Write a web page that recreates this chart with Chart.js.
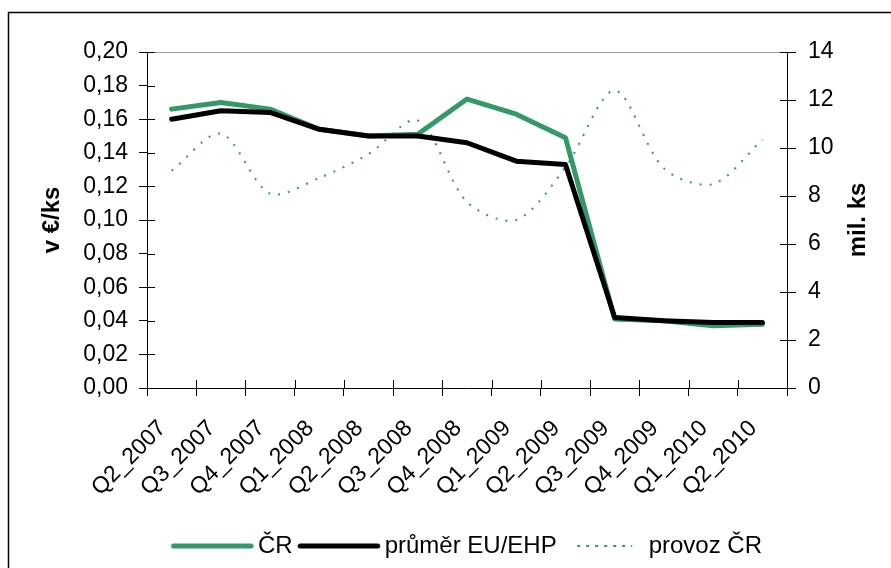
<!DOCTYPE html>
<html>
<head>
<meta charset="utf-8">
<script src="https://cdn.jsdelivr.net/npm/chart.js@4.4.1/dist/chart.umd.min.js"></script>
<style>
  html, body { margin: 0; padding: 0; background: #fff; }
  #wrap { width: 891px; height: 568px; }
</style>
</head>
<body>
<div id="wrap"><canvas id="graf" width="891" height="568"></canvas></div>
<script>
// Kvartaly na ose x
const kvartaly = ['Q2_2007', 'Q3_2007', 'Q4_2007', 'Q1_2008', 'Q2_2008', 'Q3_2008', 'Q4_2008',
                  'Q1_2009', 'Q2_2009', 'Q3_2009', 'Q4_2009', 'Q1_2010', 'Q2_2010'];

// Cena v €/ks (leva osa)
const cenaCR = [0.166, 0.170, 0.166, 0.154, 0.150, 0.151, 0.172, 0.163, 0.149, 0.041, 0.040, 0.037, 0.038];
const cenaEU = [0.160, 0.165, 0.164, 0.154, 0.150, 0.150, 0.146, 0.135, 0.133, 0.042, 0.040, 0.039, 0.039];

// Provoz v mil. ks (prava osa)
const provozCR = [9.05, 10.6, 8.1, 8.75, 9.75, 11.15, 7.75, 7.0, 9.2, 12.4, 9.15, 8.5, 10.35];

// Rozsah os: min, max, krok
const levaOsa = [0, 0.20, 0.02];
const pravaOsa = [0, 14, 2];

const zelena = '#339966';
const rodina = "'Liberation Sans', Arial, sans-serif";
const pismo = { family: rodina, size: 23 };

Chart.defaults.font.family = rodina;
Chart.defaults.color = '#000';

// vzorek cary do legendy (Chart.js u pointStyle nekresli carkovani)
function vzorek(barva, sirka, carky, od, po, kulate) {
    const c = document.createElement('canvas');
    c.width = 104;
    c.height = 8;
    const g = c.getContext('2d');
    g.strokeStyle = barva;
    g.lineWidth = sirka;
    g.lineCap = kulate ? 'round' : 'butt';
    g.setLineDash(carky);
    g.beginPath();
    g.moveTo(od, 4);
    g.lineTo(po, 4);
    g.stroke();
    return c;
}

// ramecek, horni seda cara, vnitrni carky a popisek prave osy
const doplnky = {
    id: 'doplnky',
    afterLayout(chart) {
        // legenda je v originale posunuta doprava
        chart.legend.left += 22;
        chart.legend.right += 22;
    },
    beforeDraw(chart) {
        const c = chart.ctx;
        c.save();
        c.fillStyle = '#fff';
        c.fillRect(0, 0, chart.width, chart.height);
        c.strokeStyle = '#000';
        c.lineWidth = 1.5;
        c.strokeRect(8.5, 12.5, 1000, 1000);
        c.restore();
    },
    afterDraw(chart) {
        const c = chart.ctx;
        const a = chart.chartArea;
        const sx = chart.scales.x, sy = chart.scales.y, sy1 = chart.scales.y1;
        c.save();
        c.strokeStyle = '#999';
        c.lineWidth = 1;
        c.beginPath();
        c.moveTo(a.left, a.top + 0.5);
        c.lineTo(a.right, a.top + 0.5);
        c.stroke();

        c.strokeStyle = '#000';
        c.beginPath();
        sy.ticks.forEach(t => {
            const y = Math.round(sy.getPixelForValue(t.value)) + 0.5;
            c.moveTo(a.left, y);
            c.lineTo(a.left + 8, y);
        });
        sy1.ticks.forEach(t => {
            const y = Math.round(sy1.getPixelForValue(t.value)) + 0.5;
            c.moveTo(a.right - 7, y);
            c.lineTo(a.right, y);
        });
        const krok = sx.getPixelForTick(1) - sx.getPixelForTick(0);
        for (let i = 0; i <= kvartaly.length; i++) {
            const x = Math.round(sx.getPixelForTick(0) - krok / 2 + i * krok) + 0.5;
            c.moveTo(x, a.bottom - 8);
            c.lineTo(x, a.bottom);
        }
        c.stroke();

        c.translate(858, (a.top + a.bottom) / 2);
        c.rotate(-Math.PI / 2);
        c.font = 'bold 24px ' + rodina;
        c.fillStyle = '#000';
        c.textAlign = 'center';
        c.textBaseline = 'middle';
        c.fillText('mil. ks', 0, 0);
        c.restore();
    }
};

const graf = new Chart(document.getElementById('graf').getContext('2d'), {
    type: 'line',
    data: {
        labels: kvartaly,
        datasets: [
            {
                label: 'ČR',
                data: cenaCR,
                yAxisID: 'y',
                borderColor: zelena,
                backgroundColor: zelena,
                borderWidth: 5,
                borderCapStyle: 'round',
                borderJoinStyle: 'round',
                pointRadius: 0,
                pointStyle: vzorek(zelena, 5, [], 16, 93.5, true),
                tension: 0,
                order: 2
            },
            {
                label: 'průměr EU/EHP',
                data: cenaEU,
                yAxisID: 'y',
                borderColor: '#000',
                backgroundColor: '#000',
                borderWidth: 5,
                borderCapStyle: 'round',
                borderJoinStyle: 'round',
                pointRadius: 0,
                pointStyle: vzorek('#000', 5, [], 16, 93.5, true),
                tension: 0,
                order: 0
            },
            {
                label: 'provoz ČR',
                data: provozCR,
                yAxisID: 'y1',
                borderColor: zelena,
                backgroundColor: zelena,
                borderWidth: 2,
                borderDash: [2, 8],
                pointRadius: 0,
                pointStyle: vzorek(zelena, 2, [3, 6], 29, 84, false),
                tension: 0.3,
                order: 1
            }
        ]
    },
    options: {
        responsive: false,
        animation: false,
        devicePixelRatio: 1,
        layout: { padding: { top: 52, left: 0, right: 0, bottom: 0 } },
        plugins: {
            tooltip: { enabled: false },
            legend: {
                position: 'bottom',
                labels: {
                    usePointStyle: true,
                    pointStyleWidth: 73,
                    font: { family: rodina, size: 24 },
                    color: '#000',
                    padding: 7,
                    sort: (a, b) => a.datasetIndex - b.datasetIndex
                }
            }
        },
        scales: {
            x: {
                offset: true,
                grid: { offset: true, drawOnChartArea: false, color: '#000', tickLength: 8 },
                border: { color: '#000' },
                ticks: {
                    font: pismo,
                    color: '#000',
                    minRotation: 45,
                    maxRotation: 45,
                    padding: 10,
                    callback: (v, i) => kvartaly[i] + '  '
                },
                afterFit(s) { s.height = 139; }
            },
            y: {
                position: 'left',
                min: levaOsa[0],
                max: levaOsa[1],
                grid: { drawOnChartArea: false, color: '#000', tickLength: 8 },
                border: { color: '#000' },
                ticks: {
                    stepSize: levaOsa[2],
                    font: pismo,
                    color: '#000',
                    padding: 11,
                    callback: v => v.toFixed(2).replace('.', ',')
                },
                title: {
                    display: true,
                    text: 'v €/ks',
                    font: { size: 24, weight: 'bold' },
                    color: '#000',
                    padding: { top: 38, bottom: 0 }
                },
                afterFit(s) { s.width = 147; }
            },
            y1: {
                position: 'right',
                min: pravaOsa[0],
                max: pravaOsa[1],
                grid: { drawOnChartArea: false, color: '#000', tickLength: 9 },
                border: { color: '#000' },
                ticks: { stepSize: pravaOsa[2], font: pismo, color: '#000', padding: 12 },
                afterFit(s) { s.width = 104; }
            }
        }
    },
    plugins: [doplnky]
});
</script>
</body>
</html>
